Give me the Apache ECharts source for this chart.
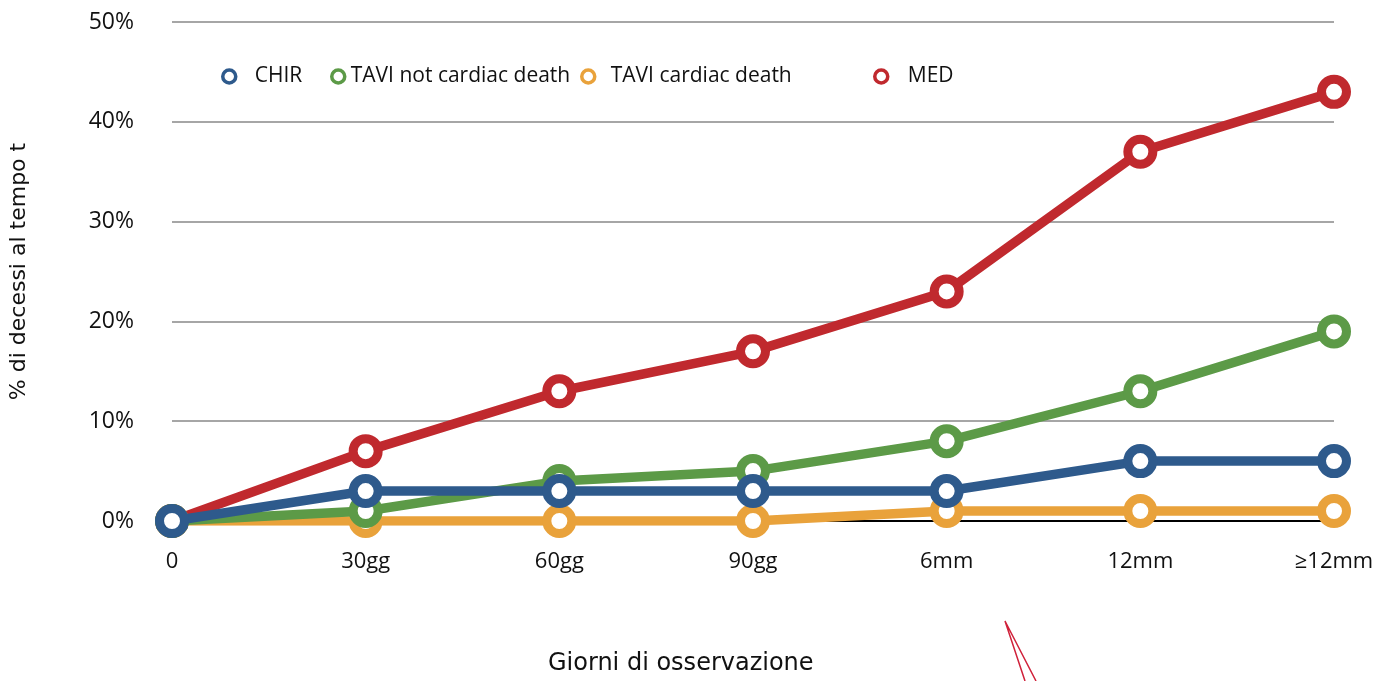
<!DOCTYPE html>
<html>
<head>
<meta charset="utf-8">
<script src="https://cdn.jsdelivr.net/npm/echarts@6/dist/echarts.min.js"></script>
<style>
  html, body { margin: 0; padding: 0; background: #fff; }
  #chart { width: 1392px; height: 681px; }
</style>
</head>
<body>
<div id="chart"></div>
<script>
  // data (percent)
  const categories = ['0', '30gg', '60gg', '90gg', '6mm', '12mm', '≥12mm'];
  const chir = [0, 3, 3, 3, 3, 6, 6];
  const taviNotCardiac = [0, 1, 4, 5, 8, 13, 19];
  const taviCardiac = [0, 0, 0, 0, 1, 1, 1];
  const med = [0, 7, 13, 17, 23, 37, 43];
  const yTicks = [0, 10, 20, 30, 40, 50];

  const font = '"Open Sans", "Noto Sans", sans-serif';
  const colors = {
    CHIR: '#2E5A8C',
    'TAVI not cardiac death': '#5C9A47',
    'TAVI cardiac death': '#E9A23B',
    MED: '#C0292E'
  };

  function mkSeries(name, data, z) {
    return {
      name: name,
      type: 'line',
      data: data,
      z: z,
      symbol: 'circle',
      symbolSize: 25,
      lineStyle: { width: 9.5, color: colors[name] },
      itemStyle: { color: '#fff', borderColor: colors[name], borderWidth: 9 },
      emphasis: { disabled: true }
    };
  }

  // each legend entry sits on its own, like in the original
  function mkLegend(name, left, gap) {
    return {
      data: [name],
      left: left,
      top: 61,
      icon: 'circle',
      itemWidth: 13,
      itemHeight: 13,
      itemGap: 0,
      itemStyle: { color: '#fff', borderColor: colors[name], borderWidth: 3.5 },
      textStyle: { fontFamily: font, fontSize: 21, color: '#111', padding: [0, 0, 0, gap] },
      selectedMode: false
    };
  }

  const chart = echarts.init(document.getElementById('chart'));
  chart.setOption({
    animation: false,
    grid: { left: 171, right: 58, top: 22, bottom: 160 },
    legend: [
      mkLegend('CHIR', 216, 14),
      mkLegend('TAVI not cardiac death', 325, 1),
      mkLegend('TAVI cardiac death', 575, 11),
      mkLegend('MED', 868, 15)
    ],
    xAxis: {
      type: 'category',
      boundaryGap: false,
      data: categories,
      axisTick: { show: false },
      axisLine: { lineStyle: { color: '#000', width: 2 } },
      axisLabel: { fontFamily: font, fontSize: 22, color: '#111', margin: 30 }
    },
    yAxis: {
      type: 'value',
      min: yTicks[0],
      max: yTicks[yTicks.length - 1],
      interval: 10,
      name: '% di decessi al tempo t',
      nameLocation: 'middle',
      nameGap: 142,
      nameTextStyle: { fontFamily: '"DejaVu Sans", sans-serif', fontSize: 22, color: '#111' },
      axisLine: { show: false },
      axisTick: { show: false },
      axisLabel: { formatter: '{value}%', fontFamily: font, fontSize: 23, color: '#111', margin: 38 },
      splitLine: { lineStyle: { color: '#A6A6A6', width: 2 } }
    },
    graphic: [
      {
        type: 'text',
        left: 548,
        top: 652,
        style: { text: 'Giorni di osservazione', font: '24px "DejaVu Sans", sans-serif', fill: '#111' }
      },
      {
        type: 'polyline',
        shape: { points: [[1025, 681], [1005, 621], [1036, 681]] },
        style: { stroke: '#D0213A', lineWidth: 1.5, fill: null }
      }
    ],
    series: [
      mkSeries('CHIR', chir, 5),
      mkSeries('TAVI not cardiac death', taviNotCardiac, 4),
      mkSeries('TAVI cardiac death', taviCardiac, 3),
      mkSeries('MED', med, 2)
    ]
  });
</script>
</body>
</html>
